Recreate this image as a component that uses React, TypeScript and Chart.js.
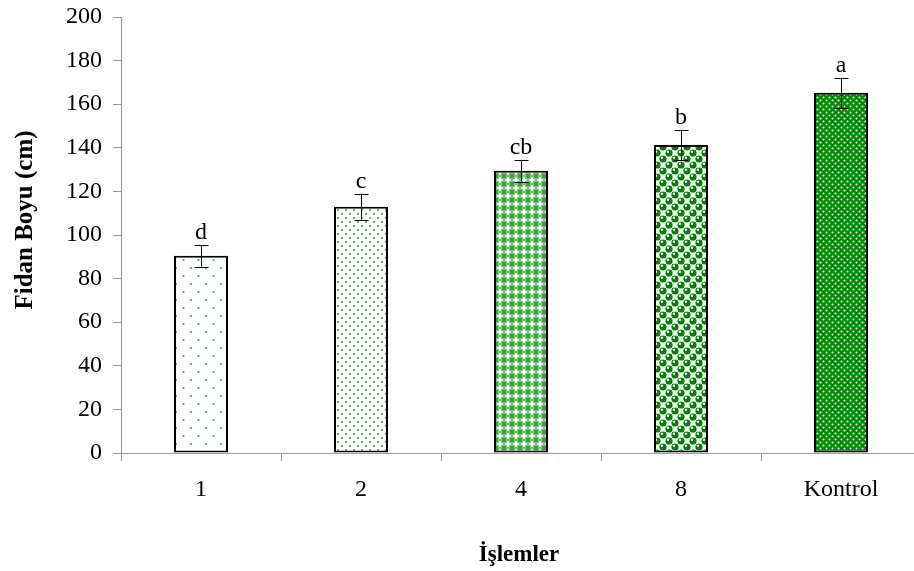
import React, { useEffect, useRef } from "react";
import { Chart, registerables } from "chart.js";

Chart.register(...registerables);

const categories = ["1", "2", "4", "8", "Kontrol"];
const heights = [90.5, 113, 129.5, 141.3, 165.2];
const errors = [5, 6, 5, 7, 7];
const letters = ["d", "c", "cb", "b", "a"];
const yTicks = [0, 20, 40, 60, 80, 100, 120, 140, 160, 180, 200];
const xTitle = "İşlemler";
const yTitle = "Fidan Boyu (cm)";

const FONT = "'Liberation Serif', 'Times New Roman', serif";

function tile(w: number, h: number, draw: (c: CanvasRenderingContext2D) => void) {
  const cv = document.createElement("canvas");
  cv.width = w;
  cv.height = h;
  const c = cv.getContext("2d")!;
  draw(c);
  return cv;
}

function makePatterns(ctx: CanvasRenderingContext2D) {
  const dot = (c: CanvasRenderingContext2D, x: number, y: number, r: number, col: string) => {
    c.fillStyle = col;
    c.beginPath();
    c.arc(x, y, r, 0, Math.PI * 2);
    c.fill();
  };
  const p1 = tile(15, 16, (c) => {
    c.fillStyle = "#ffffff";
    c.fillRect(0, 0, 15, 16);
    dot(c, 3.5, 4, 1.1, "#3aa63a");
    dot(c, 11, 12, 1.1, "#3aa63a");
  });
  const p2 = tile(8, 8, (c) => {
    c.fillStyle = "#ffffff";
    c.fillRect(0, 0, 8, 8);
    dot(c, 2, 2, 1.1, "#3aa63a");
    dot(c, 6, 6, 1.1, "#3aa63a");
  });
  const p3 = tile(8, 8, (c) => {
    c.fillStyle = "#78c878";
    c.fillRect(0, 0, 8, 8);
    c.fillStyle = "#3f9f3f";
    c.fillRect(0, 0, 2, 2);
    c.fillRect(6, 0, 2, 2);
    c.fillRect(0, 6, 2, 2);
    c.fillRect(6, 6, 2, 2);
    c.fillStyle = "#ffffff";
    c.fillRect(3, 1.5, 2, 5);
    c.fillRect(1.5, 3, 5, 2);
  });
  const p4 = tile(12, 12, (c) => {
    c.fillStyle = "#c0e4c0";
    c.fillRect(0, 0, 12, 12);
    c.fillStyle = "#ffffff";
    c.fillRect(6, 0, 6, 6);
    c.fillRect(0, 6, 6, 6);
    const circ = (x: number, y: number) => {
      dot(c, x, y, 3.6, "#008000");
      dot(c, x - 1, y - 1.2, 1.2, "#ffffff");
    };
    circ(3, 3);
    circ(9, 9);
    circ(-3, 9);
    circ(15, 3);
    circ(9, -3);
    circ(3, 15);
  });
  const p5 = tile(6, 6, (c) => {
    c.fillStyle = "#008a00";
    c.fillRect(0, 0, 6, 6);
    dot(c, 1.5, 1.5, 1.0, "#ffffff");
    dot(c, 4.5, 4.5, 1.0, "#ffffff");
  });
  return [p1, p2, p3, p4, p5].map((t) => ctx.createPattern(t, "repeat")!);
}

const overlayPlugin = {
  id: "overlay",
  afterDatasetsDraw(chart: any) {
    const ctx = chart.ctx as CanvasRenderingContext2D;
    const meta = chart.getDatasetMeta(0);
    const y = chart.scales.y;
    ctx.save();
    ctx.strokeStyle = "#000";
    ctx.lineWidth = 1;
    meta.data.forEach((bar: any, i: number) => {
      const x = Math.round(bar.x) + 0.5;
      const top = y.getPixelForValue(heights[i] + errors[i]);
      const bot = y.getPixelForValue(heights[i] - errors[i]);
      ctx.beginPath();
      ctx.moveTo(x, top);
      ctx.lineTo(x, bot);
      ctx.moveTo(x - 7, Math.round(top) + 0.5);
      ctx.lineTo(x + 7, Math.round(top) + 0.5);
      ctx.moveTo(x - 7, Math.round(bot) + 0.5);
      ctx.lineTo(x + 7, Math.round(bot) + 0.5);
      ctx.stroke();
      ctx.fillStyle = "#000";
      ctx.font = `24px ${FONT}`;
      ctx.textAlign = "center";
      ctx.textBaseline = "alphabetic";
      ctx.fillText(letters[i], bar.x, top - 6);
    });
    ctx.restore();
  },
  afterDraw(chart: any) {
    const ctx = chart.ctx as CanvasRenderingContext2D;
    const area = chart.chartArea;
    ctx.save();
    ctx.fillStyle = "#000";
    ctx.font = `bold 23px ${FONT}`;
    ctx.textAlign = "center";
    ctx.textBaseline = "alphabetic";
    ctx.fillText(xTitle, (area.left + area.right) / 2 - 2, 561);
    ctx.font = `bold 25px ${FONT}`;
    ctx.translate(32, 220);
    ctx.rotate(-Math.PI / 2);
    ctx.fillText(yTitle, 0, 0);
    ctx.restore();
  },
};

export default function App() {
  const ref = useRef<HTMLCanvasElement>(null);
  useEffect(() => {
    const canvas = ref.current!;
    const ctx = canvas.getContext("2d")!;
    const patterns = makePatterns(ctx);
    const chart = new Chart(canvas, {
      type: "bar",
      data: {
        labels: categories,
        datasets: [
          {
            data: heights,
            backgroundColor: patterns as any,
            borderColor: "#000",
            borderWidth: 2,
            borderSkipped: false,
            categoryPercentage: 1,
            barPercentage: 0.3375,
          },
        ],
      },
      options: {
        animation: false,
        responsive: false,
        devicePixelRatio: 1,
        layout: { padding: { top: 17, left: 0, right: 0, bottom: 0 } },
        plugins: { legend: { display: false }, tooltip: { enabled: false } },
        scales: {
          x: {
            border: { color: "#a0a0a0", width: 1 },
            grid: { drawOnChartArea: false, color: "#a0a0a0", tickLength: 8, offset: true },
            ticks: { color: "#000", font: { family: FONT, size: 24 }, padding: 14 },
            afterFit: (s: any) => {
              s.height = 118;
              s.paddingLeft = 0;
              s.paddingRight = 0;
            },
          },
          y: {
            min: 0,
            max: 200,
            border: { color: "#999", width: 1 },
            grid: { drawOnChartArea: false, color: "#999", tickLength: 8 },
            afterBuildTicks: (s: any) => {
              s.ticks = yTicks.map((v) => ({ value: v }));
            },
            ticks: { color: "#000", font: { family: FONT, size: 24 }, padding: 11 },
            afterFit: (s: any) => {
              s.width = 121;
              s.paddingTop = 0;
              s.paddingBottom = 0;
            },
          },
        },
      },
      plugins: [overlayPlugin],
    });
    return () => chart.destroy();
  }, []);
  return (
    <div style={{ position: "fixed", left: 0, top: 0, width: 914, height: 571, overflow: "hidden", background: "#fff" }}>
      <canvas ref={ref} width={921} height={571} style={{ width: 921, height: 571, display: "block" }} />
    </div>
  );
}
